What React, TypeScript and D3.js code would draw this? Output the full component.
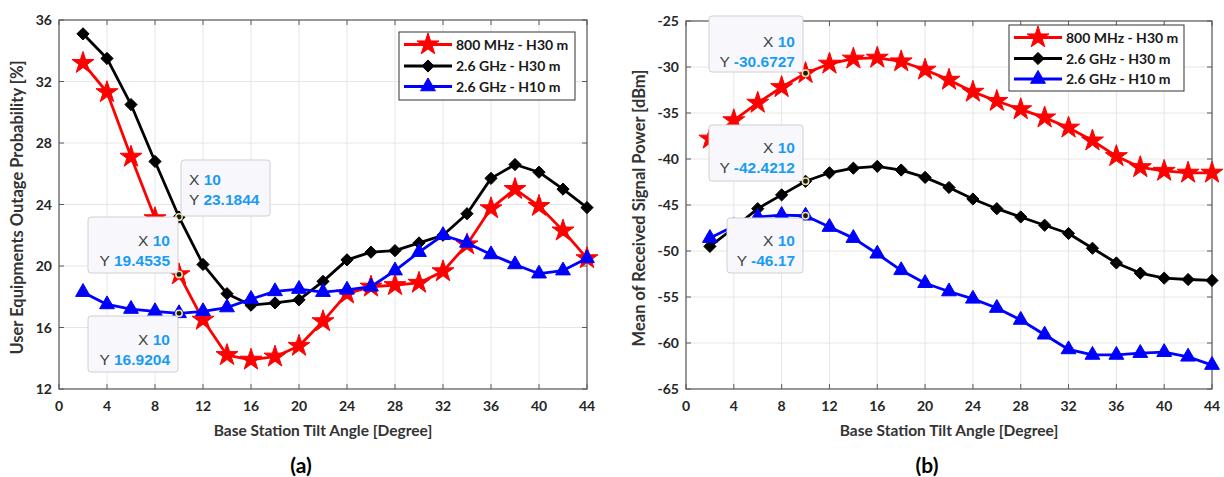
import React from "react";
import * as d3 from "d3";

const angles = [2, 4, 6, 8, 10, 12, 14, 16, 18, 20, 22, 24, 26, 28, 30, 32, 34, 36, 38, 40, 42, 44];
const xTicks = [0, 4, 8, 12, 16, 20, 24, 28, 32, 36, 40, 44];

const seriesNames = ["800 MHz - H30 m", "2.6 GHz - H30 m", "2.6 GHz - H10 m"];
const seriesColors = ["#ff0000", "#000000", "#0000ff"];
const seriesMarkers = ["star", "diamond", "triangle"];

// (a) outage probability [%]
const outage800H30 = [33.2, 31.3, 27.1, 23.1, 19.4535, 16.5, 14.2, 13.9, 14.1, 14.8, 16.4, 18.2, 18.65, 18.75, 18.9, 19.65, 21.4, 23.75, 25.0, 23.9, 22.3, 20.5];
const outage26H30 = [35.1, 33.5, 30.5, 26.8, 23.1844, 20.1, 18.2, 17.45, 17.6, 17.8, 19.0, 20.4, 20.9, 21.0, 21.5, 22.0, 23.4, 25.7, 26.6, 26.1, 25.0, 23.8];
const outage26H10 = [18.3, 17.5, 17.2, 17.05, 16.9204, 17.05, 17.3, 17.85, 18.35, 18.5, 18.3, 18.45, 18.65, 19.7, 20.9, 22.0, 21.5, 20.75, 20.1, 19.5, 19.7, 20.5];
const yTicksA = [12, 16, 20, 24, 28, 32, 36];

// (b) mean received signal power [dBm]
const power800H30 = [-37.8, -35.8, -33.9, -32.2, -30.6727, -29.65, -29.1, -29.0, -29.4, -30.3, -31.4, -32.7, -33.7, -34.6, -35.5, -36.6, -38.0, -39.7, -40.9, -41.3, -41.5, -41.5];
const power26H30 = [-49.5, -47.5, -45.4, -43.9, -42.4212, -41.5, -41.0, -40.8, -41.2, -42.0, -43.1, -44.35, -45.4, -46.3, -47.2, -48.1, -49.7, -51.3, -52.4, -52.95, -53.1, -53.2];
const power26H10 = [-48.6, -47.3, -46.3, -46.1, -46.17, -47.4, -48.6, -50.3, -52.1, -53.5, -54.4, -55.2, -56.2, -57.5, -59.1, -60.7, -61.3, -61.3, -61.1, -61.0, -61.5, -62.4];
const yTicksB = [-65, -60, -55, -50, -45, -40, -35, -30, -25];

const FONT = "Lato, 'Open Sans', sans-serif";
const TIPFONT = "'Liberation Sans', Arial, sans-serif";

function markerPath(kind: string) {
  if (kind === "star") return d3.symbol(d3.symbolStar, 150)()!;
  if (kind === "diamond") return d3.symbol(d3.symbolDiamond2, 95)()!;
  return d3.symbol(d3.symbolTriangle, 95)()!;
}

type Tip = { series: number; box: [number, number, number, number]; align: "start" | "end"; tx: number; b1: number; b2: number };

function Plot(props: {
  left: number; right: number; top: number; bottom: number;
  yDomain: [number, number]; yTicks: number[]; series: number[][];
  yLabel: string; yLabelX: number; caption: string;
  legend: { x: number; y: number; w: number; h: number; rows: number[]; lx0: number; lx1: number; tx: number };
  tips: Tip[];
}) {
  const { left, right, top, bottom, yDomain, yTicks, series, legend, tips } = props;
  const x = d3.scaleLinear().domain([0, 44]).range([left, right]);
  const y = d3.scaleLinear().domain(yDomain).range([bottom, top]);
  const line = d3.line<number>().x((_, i) => x(angles[i])).y((v) => y(v));
  const gridColor = "#e6e6e6";
  const axisColor = "#5a5a5a";
  const tickLen = 5;
  return (
    <g>
      {xTicks.map((t) => (
        <line key={"gx" + t} x1={x(t)} x2={x(t)} y1={top} y2={bottom} stroke={gridColor} strokeWidth={1} />
      ))}
      {yTicks.map((t) => (
        <line key={"gy" + t} x1={left} x2={right} y1={y(t)} y2={y(t)} stroke={gridColor} strokeWidth={1} />
      ))}
      {xTicks.map((t) => (
        <g key={"tx" + t}>
          <line x1={x(t)} x2={x(t)} y1={bottom} y2={bottom - tickLen} stroke={axisColor} />
          <line x1={x(t)} x2={x(t)} y1={top} y2={top + tickLen} stroke={axisColor} />
          <text x={x(t)} y={bottom + 22} textAnchor="middle" fontFamily={FONT} fontWeight={700} fontSize={14} fill="#262626">{t}</text>
        </g>
      ))}
      {yTicks.map((t) => (
        <g key={"ty" + t}>
          <line x1={left} x2={left + tickLen} y1={y(t)} y2={y(t)} stroke={axisColor} />
          <line x1={right} x2={right - tickLen} y1={y(t)} y2={y(t)} stroke={axisColor} />
          <text x={left - 7} y={y(t) + 5} textAnchor="end" fontFamily={FONT} fontWeight={700} fontSize={14} fill="#262626">{t}</text>
        </g>
      ))}
      <rect x={left} y={top} width={right - left} height={bottom - top} fill="none" stroke={axisColor} strokeWidth={1.2} />
      {series.map((s, k) => (
        <g key={"s" + k}>
          <path d={line(s)!} fill="none" stroke={seriesColors[k]} strokeWidth={2.8} strokeLinejoin="round" />
          {s.map((v, i) => (
            <path key={i} d={markerPath(seriesMarkers[k])} transform={`translate(${x(angles[i])},${y(v)})`} fill={seriesColors[k]} stroke={seriesColors[k]} strokeWidth={1} />
          ))}
        </g>
      ))}
      {tips.map((tp, j) => (
        <circle key={"d" + j} cx={x(10)} cy={y(series[tp.series][4])} r={3.2} fill="#1a1a1a" stroke="#f0e6a0" strokeWidth={1.5} />
      ))}
      {tips.map((tp, j) => (
        <g key={"t" + j}>
          <rect x={tp.box[0]} y={tp.box[1]} width={tp.box[2]} height={tp.box[3]} rx={3} fill="#f8f8fc" stroke="#d0d0d4" strokeWidth={1} />
          <text x={tp.tx} y={tp.b1} textAnchor={tp.align} fontFamily={TIPFONT} fontSize={15.5}>
            <tspan fill="#404040">X </tspan>
            <tspan fill="#1a9cf5" fontWeight={700}>10</tspan>
          </text>
          <text x={tp.tx} y={tp.b2} textAnchor={tp.align} fontFamily={TIPFONT} fontSize={15.5}>
            <tspan fill="#404040">Y </tspan>
            <tspan fill="#1a9cf5" fontWeight={700}>{String(series[tp.series][4])}</tspan>
          </text>
        </g>
      ))}
      <rect x={legend.x} y={legend.y} width={legend.w} height={legend.h} fill="#ffffff" stroke="#333" strokeWidth={1} />
      {seriesNames.map((n, k) => (
        <g key={"l" + k}>
          <line x1={legend.lx0} x2={legend.lx1} y1={legend.rows[k]} y2={legend.rows[k]} stroke={seriesColors[k]} strokeWidth={2.8} />
          <path d={markerPath(seriesMarkers[k])} transform={`translate(${(legend.lx0 + legend.lx1) / 2},${legend.rows[k]})`} fill={seriesColors[k]} stroke={seriesColors[k]} />
          <text x={legend.tx} y={legend.rows[k] + 5} fontFamily={FONT} fontWeight={700} fontSize={14} fill="#1a1a1a">{n}</text>
        </g>
      ))}
      <text x={(left + right) / 2} y={bottom + 47} textAnchor="middle" fontFamily={FONT} fontWeight={700} fontSize={15.5} fill="#333">Base Station Tilt Angle [Degree]</text>
      <text transform={`translate(${props.yLabelX},${(top + bottom) / 2 + 3}) rotate(-90)`} textAnchor="middle" fontFamily={FONT} fontWeight={700} fontSize={16.5} fill="#333">{props.yLabel}</text>
      <text x={(left + right) / 2 - 22} y={bottom + 84} textAnchor="middle" fontFamily={FONT} fontWeight={700} fontSize={21} fill="#000">{props.caption}</text>
    </g>
  );
}

export default function App() {
  return (
    <svg width={1224} height={477} style={{ position: "absolute", left: 0, top: 0, background: "#fff" }}>
      <Plot
        left={59} right={587} top={20} bottom={389}
        yDomain={[12, 36]} yTicks={yTicksA}
        series={[outage800H30, outage26H30, outage26H10]}
        yLabel="User Equipments Outage Probability [%]" yLabelX={23} caption="(a)"
        legend={{ x: 399, y: 32, w: 176, h: 68, rows: [44.5, 66, 86.5], lx0: 404, lx1: 452, tx: 456 }}
        tips={[
          { series: 1, box: [181, 160, 89, 56], align: "start", tx: 189, b1: 185, b2: 205 },
          { series: 0, box: [88, 217, 90, 56], align: "end", tx: 170, b1: 246, b2: 266 },
          { series: 2, box: [88, 316, 90, 56], align: "end", tx: 170, b1: 345, b2: 365 },
        ]}
      />
      <Plot
        left={686} right={1212} top={21} bottom={389}
        yDomain={[-65, -25]} yTicks={yTicksB}
        series={[power800H30, power26H30, power26H10]}
        yLabel="Mean of Received Signal Power [dBm]" yLabelX={645} caption="(b)"
        legend={{ x: 1009, y: 25, w: 175, h: 66, rows: [37.5, 58.5, 79], lx0: 1014, lx1: 1062, tx: 1066 }}
        tips={[
          { series: 0, box: [709, 16, 94, 56], align: "end", tx: 795, b1: 47, b2: 67 },
          { series: 1, box: [709, 125, 94, 56], align: "end", tx: 795, b1: 153, b2: 173 },
          { series: 2, box: [727, 218, 76, 55], align: "end", tx: 795, b1: 246, b2: 266 },
        ]}
      />
    </svg>
  );
}
